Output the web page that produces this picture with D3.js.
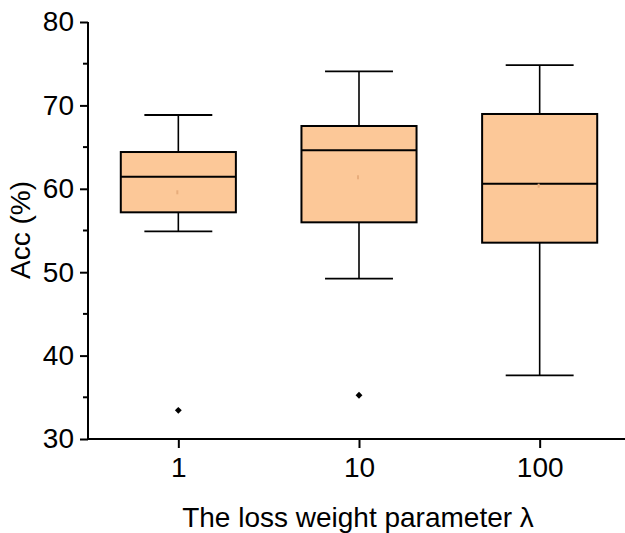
<!DOCTYPE html>
<html><head><meta charset="utf-8">
<script src="https://cdn.jsdelivr.net/npm/d3@7"></script>
<style>body{margin:0;background:#fff}svg{display:block}text{font-family:"Liberation Sans",Arial,sans-serif;fill:#000}</style>
</head><body>
<svg id="c" width="625" height="533"></svg>
<script>
const categories = ["1", "10", "100"];
const whiskerHigh = [68.85, 74.09, 74.84];
const q3 = [64.41, 67.53, 68.97];
const median = [61.45, 64.62, 60.61];
const q1 = [57.18, 55.98, 53.54];
const whiskerLow = [54.9, 49.22, 37.64];
const means = [59.58, 61.38, 60.37];
const outliers = [[33.44], [35.24], []];
const yTicks = [30, 40, 50, 60, 70, 80];
const yMinorTicks = [35, 45, 55, 65, 75];

const svg = d3.select("#c");
const x = d3.scalePoint().domain(categories).range([88, 630]).padding(0.5);
const step = x.step();
const y = d3.scaleLinear().domain([30, 80]).range([439, 22]);
const bw = step * 0.637, cw = step * 0.376;
const fill = "#fcc898";

const data = categories.map((c, i) => ({c, hi: whiskerHigh[i], q3: q3[i], med: median[i], q1: q1[i], lo: whiskerLow[i], mean: means[i], out: outliers[i]}));
const g = svg.append("g");
data.forEach(d => {
  const cx = x(d.c);
  g.append("line").attr("x1", cx).attr("x2", cx).attr("y1", y(d.hi)).attr("y2", y(d.q3)).attr("stroke", "#000").attr("stroke-width", 1.6);
  g.append("line").attr("x1", cx).attr("x2", cx).attr("y1", y(d.q1)).attr("y2", y(d.lo)).attr("stroke", "#000").attr("stroke-width", 1.6);
  g.append("line").attr("x1", cx - cw/2).attr("x2", cx + cw/2).attr("y1", y(d.hi)).attr("y2", y(d.hi)).attr("stroke", "#000").attr("stroke-width", 1.8);
  g.append("line").attr("x1", cx - cw/2).attr("x2", cx + cw/2).attr("y1", y(d.lo)).attr("y2", y(d.lo)).attr("stroke", "#000").attr("stroke-width", 1.8);
  g.append("rect").attr("x", cx - bw/2).attr("y", y(d.q3)).attr("width", bw).attr("height", y(d.q1) - y(d.q3)).attr("fill", fill).attr("stroke", "#000").attr("stroke-width", 2);
  g.append("line").attr("x1", cx - bw/2).attr("x2", cx + bw/2).attr("y1", y(d.med)).attr("y2", y(d.med)).attr("stroke", "#000").attr("stroke-width", 2);
  g.append("rect").attr("x", cx - 2).attr("y", y(d.mean) - 2).attr("width", 2).attr("height", 4).attr("fill", "#e8ad7c");
  d.out.forEach(v => {
    g.append("path").attr("d", d3.symbol(d3.symbolDiamond2, 30)()).attr("transform", `translate(${cx},${y(v)})`).attr("fill", "#000");
  });
});

// y axis
const ya = svg.append("g").attr("transform", "translate(88,0)")
  .call(d3.axisLeft(y).tickValues(yTicks).tickSize(8).tickPadding(6).tickFormat(d3.format("d")));
ya.select(".domain").attr("stroke-width", 2).attr("d", `M0,${y(30)}V${y(80)}`);
ya.selectAll(".tick line").attr("stroke-width", 2);
ya.selectAll(".tick text").attr("font-size", 28).attr("font-family", "Liberation Sans, Arial, sans-serif");
svg.append("g").selectAll("line").data(yMinorTicks).join("line")
  .attr("x1", 83).attr("x2", 88).attr("y1", d => y(d)).attr("y2", d => y(d)).attr("stroke", "#000").attr("stroke-width", 2);

// x axis
const xa = svg.append("g").attr("transform", "translate(0,439)")
  .call(d3.axisBottom(x).tickSize(9).tickPadding(9));
xa.select(".domain").attr("stroke-width", 2).attr("d", "M87,0H625");
xa.selectAll(".tick line").attr("stroke-width", 2);
xa.selectAll(".tick text").attr("font-size", 28).attr("font-family", "Liberation Sans, Arial, sans-serif");

svg.append("text").attr("x", 358).attr("y", 527).attr("text-anchor", "middle").attr("font-size", 28).text("The loss weight parameter λ");
svg.append("text").attr("transform", "translate(30,230) rotate(-90)").attr("text-anchor", "middle").attr("font-size", 28).text("Acc (%)");
</script>
</body></html>
